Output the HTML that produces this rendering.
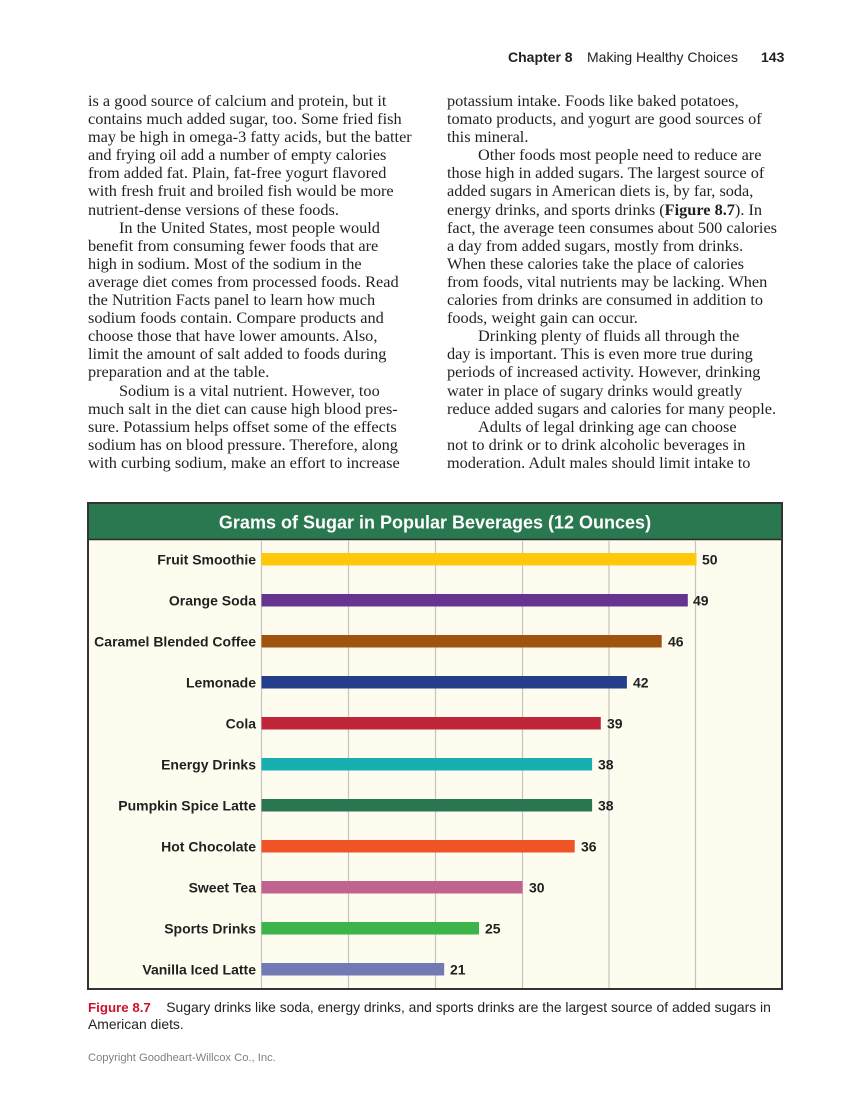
<!DOCTYPE html>
<html>
<head>
<meta charset="utf-8">
<style>
  html,body{margin:0;padding:0;background:#fff;}
  body{width:849px;height:1112px;position:relative;overflow:hidden;}
  .hdr{position:absolute;top:49px;font-family:"Liberation Sans",Arial,sans-serif;font-size:14px;color:#231f20;white-space:nowrap;line-height:17px;}
  .col{position:absolute;top:92px;font-family:"Liberation Serif","Times New Roman",serif;font-size:16.3px;line-height:18.1px;color:#231f20;white-space:nowrap;}
  .col div{height:18.1px;}
  .ind{padding-left:31px;}
  .cap{position:absolute;left:88px;top:999px;font-family:"Liberation Sans",Arial,sans-serif;font-size:13.9px;line-height:16px;color:#231f20;white-space:nowrap;}
  .cap b{color:#d0112b;font-size:13.3px;}
  .copy{position:absolute;left:88px;top:1052px;font-family:"Liberation Sans",Arial,sans-serif;font-size:11.2px;color:#808080;white-space:nowrap;}
  svg{position:absolute;left:0;top:0;}
</style>
</head>
<body>
<div class="hdr" style="left:508px;font-weight:bold;">Chapter 8</div>
<div class="hdr" style="left:587px;">Making Healthy Choices</div>
<div class="hdr" style="left:761px;font-weight:bold;">143</div>

<div class="col" style="left:88px;">
<div>is a good source of calcium and protein, but it</div>
<div>contains much added sugar, too. Some fried fish</div>
<div>may be high in omega-3 fatty acids, but the batter</div>
<div>and frying oil add a number of empty calories</div>
<div>from added fat. Plain, fat-free yogurt flavored</div>
<div>with fresh fruit and broiled fish would be more</div>
<div>nutrient-dense versions of these foods.</div>
<div class="ind">In the United States, most people would</div>
<div>benefit from consuming fewer foods that are</div>
<div>high in sodium. Most of the sodium in the</div>
<div>average diet comes from processed foods. Read</div>
<div>the Nutrition Facts panel to learn how much</div>
<div>sodium foods contain. Compare products and</div>
<div>choose those that have lower amounts. Also,</div>
<div>limit the amount of salt added to foods during</div>
<div>preparation and at the table.</div>
<div class="ind">Sodium is a vital nutrient. However, too</div>
<div>much salt in the diet can cause high blood pres-</div>
<div>sure. Potassium helps offset some of the effects</div>
<div>sodium has on blood pressure. Therefore, along</div>
<div>with curbing sodium, make an effort to increase</div>
</div>

<div class="col" style="left:447px;">
<div>potassium intake. Foods like baked potatoes,</div>
<div>tomato products, and yogurt are good sources of</div>
<div>this mineral.</div>
<div class="ind">Other foods most people need to reduce are</div>
<div>those high in added sugars. The largest source of</div>
<div>added sugars in American diets is, by far, soda,</div>
<div>energy drinks, and sports drinks (<b>Figure 8.7</b>). In</div>
<div>fact, the average teen consumes about 500 calories</div>
<div>a day from added sugars, mostly from drinks.</div>
<div>When these calories take the place of calories</div>
<div>from foods, vital nutrients may be lacking. When</div>
<div>calories from drinks are consumed in addition to</div>
<div>foods, weight gain can occur.</div>
<div class="ind">Drinking plenty of fluids all through the</div>
<div>day is important. This is even more true during</div>
<div>periods of increased activity. However, drinking</div>
<div>water in place of sugary drinks would greatly</div>
<div>reduce added sugars and calories for many people.</div>
<div class="ind">Adults of legal drinking age can choose</div>
<div>not to drink or to drink alcoholic beverages in</div>
<div>moderation. Adult males should limit intake to</div>
</div>

<svg width="849" height="1112" viewBox="0 0 849 1112" xmlns="http://www.w3.org/2000/svg">
  <rect x="88" y="503" width="694" height="486" fill="#fefcee"/>
  <rect x="88" y="503" width="694" height="36" fill="#2a7850"/>
  <line x1="88" y1="539.5" x2="782" y2="539.5" stroke="#2b2b2b" stroke-width="1.5"/>
  <g stroke="#c4c4c4" stroke-width="1.2">
    <line x1="261.5" y1="540" x2="261.5" y2="989"/>
    <line x1="348.5" y1="540" x2="348.5" y2="989"/>
    <line x1="435.5" y1="540" x2="435.5" y2="989"/>
    <line x1="522.5" y1="540" x2="522.5" y2="989"/>
    <line x1="609" y1="540" x2="609" y2="989"/>
    <line x1="695.5" y1="540" x2="695.5" y2="989"/>
  </g>
  <rect x="88" y="503" width="694" height="486" fill="none" stroke="#333" stroke-width="2"/>
  <text x="435" y="528.5" text-anchor="middle" font-family="Liberation Sans, Arial, sans-serif" font-weight="bold" font-size="18" fill="#fff">Grams of Sugar in Popular Beverages (12 Ounces)</text>

  <g>
    <rect x="261.5" y="553" width="435" height="12.5" fill="#ffc80a"/>
    <rect x="261.5" y="594" width="426.3" height="12.5" fill="#663391"/>
    <rect x="261.5" y="635" width="400.2" height="12.5" fill="#a0530f"/>
    <rect x="261.5" y="676" width="365.4" height="12.5" fill="#243e8c"/>
    <rect x="261.5" y="717" width="339.3" height="12.5" fill="#c0253a"/>
    <rect x="261.5" y="758" width="330.6" height="12.5" fill="#14afae"/>
    <rect x="261.5" y="799" width="330.6" height="12.5" fill="#2a7651"/>
    <rect x="261.5" y="840" width="313.2" height="12.5" fill="#f05426"/>
    <rect x="261.5" y="881" width="261" height="12.5" fill="#c0648f"/>
    <rect x="261.5" y="922" width="217.5" height="12.5" fill="#3bb54a"/>
    <rect x="261.5" y="963" width="182.7" height="12.5" fill="#717ab4"/>
  </g>

  <g font-family="Liberation Sans, Arial, sans-serif" font-weight="bold" font-size="14" fill="#231f20" text-anchor="end">
    <text x="256" y="564.5">Fruit Smoothie</text>
    <text x="256" y="605.5">Orange Soda</text>
    <text x="256" y="646.5">Caramel Blended Coffee</text>
    <text x="256" y="687.5">Lemonade</text>
    <text x="256" y="728.5">Cola</text>
    <text x="256" y="769.5">Energy Drinks</text>
    <text x="256" y="810.5">Pumpkin Spice Latte</text>
    <text x="256" y="851.5">Hot Chocolate</text>
    <text x="256" y="892.5">Sweet Tea</text>
    <text x="256" y="933.5">Sports Drinks</text>
    <text x="256" y="974.5">Vanilla Iced Latte</text>
  </g>
  <g font-family="Liberation Sans, Arial, sans-serif" font-weight="bold" font-size="14" fill="#231f20">
    <text x="702" y="564.5">50</text>
    <text x="693" y="605.5">49</text>
    <text x="668" y="646.5">46</text>
    <text x="633" y="687.5">42</text>
    <text x="607" y="728.5">39</text>
    <text x="598" y="769.5">38</text>
    <text x="598" y="810.5">38</text>
    <text x="581" y="851.5">36</text>
    <text x="529" y="892.5">30</text>
    <text x="485" y="933.5">25</text>
    <text x="450" y="974.5">21</text>
  </g>
</svg>

<div class="cap"><b>Figure 8.7</b>&nbsp;&nbsp;&nbsp;&nbsp;Sugary drinks like soda, energy drinks, and sports drinks are the largest source of added sugars in<br>American diets.</div>
<div class="copy">Copyright Goodheart-Willcox Co., Inc.</div>
</body>
</html>
